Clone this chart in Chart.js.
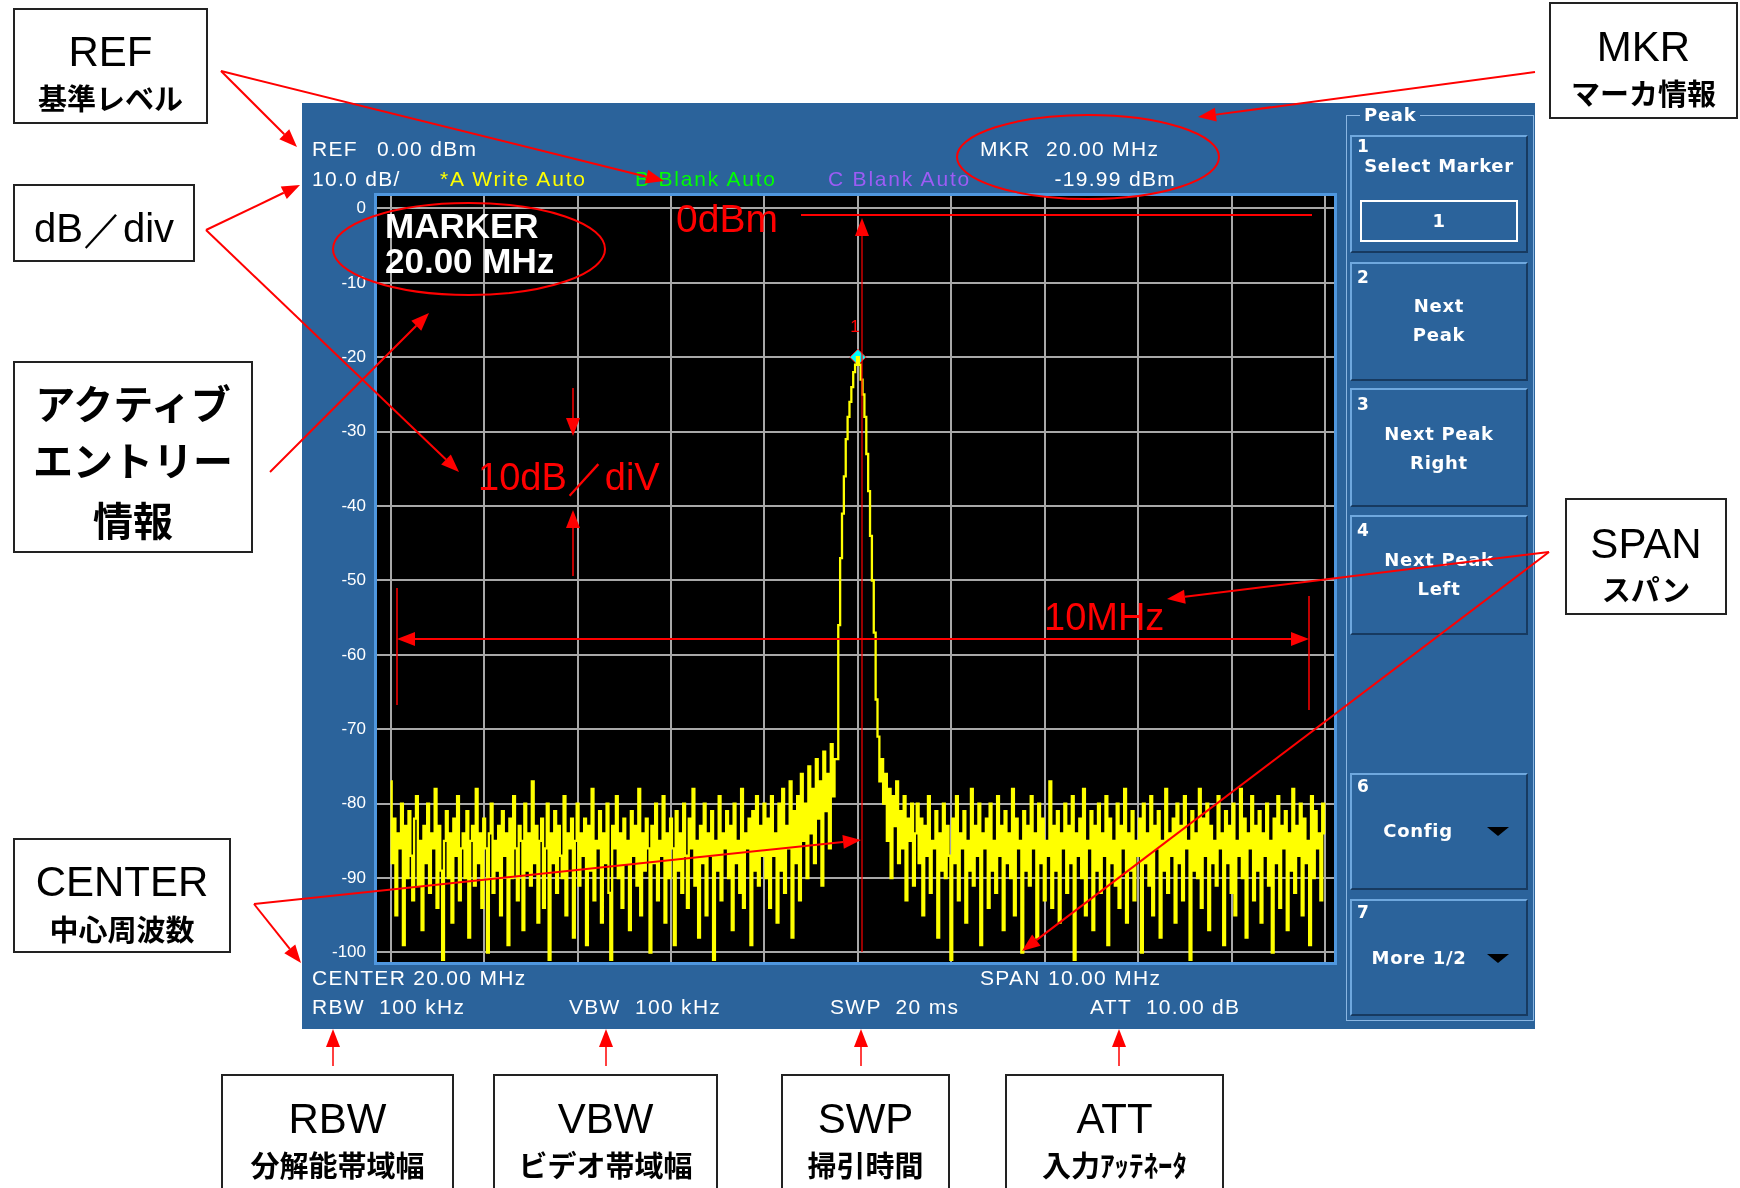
<!DOCTYPE html>
<html>
<head>
<meta charset="utf-8">
<title>Spectrum analyzer screen</title>
<script src="https://cdn.jsdelivr.net/npm/chart.js@4.4.0/dist/chart.umd.min.js"></script>
<style>
	html, body { margin: 0; padding: 0; background: #fff; }
	#page { position: relative; width: 1740px; height: 1188px; overflow: hidden; background: #fff; font-family: 'Liberation Sans', Arial, sans-serif; }
	#panel { position: absolute; left: 302px; top: 103px; width: 1233px; height: 926px; background: #2b639b; }
	#spectrum { position: absolute; left: 0; top: 0; }
	#labels { position: absolute; left: 0; top: 0; width: 1740px; height: 1188px; }
	#notes { position: absolute; left: 0; top: 0; pointer-events: none; }
	.abs { position: absolute; white-space: pre; line-height: 1; }
	.box { position: absolute; box-sizing: border-box; background: #fff; border: 2px solid #222; }
	.key { position: absolute; box-sizing: border-box; left: 1350px; width: 178px;
		border-top: 2px solid #6fa8de; border-left: 2px solid #6fa8de;
		border-bottom: 2px solid #173a60; border-right: 2px solid #173a60; }
	.tri { position: absolute; width: 0; height: 0; border-left: 11px solid transparent; border-right: 11px solid transparent; border-top: 9px solid #000; }
</style>
</head>
<body>
<div id="page">
	<div id="panel"></div>
	<canvas id="spectrum" width="1740" height="1188"></canvas>
	<div id="labels"></div>
	<svg id="notes" width="1740" height="1188" xmlns="http://www.w3.org/2000/svg"></svg>
</div>
<script>
// axis ticks (dBm) and vertical grid (MHz)
const yTicksDb = [0, -10, -20, -30, -40, -50, -60, -70, -80, -90, -100];
const xGridMHz = [15, 16, 17, 18, 19, 20, 21, 22, 23, 24, 25];

// sweep: 501 points, 15.00 .. 25.00 MHz
const traceStartMHz = 15.0;
const traceStepMHz = 0.02;

// trace A (dBm)
const noiseLeftDbm = [
	-77,-88,-82,-95,-84,-86,-80,-99,-83,-90,-81,-87,-93,-82,-79,-91,-85,-97,-83,-88,
	-80,-92,-84,-86,-78,-94,-83,-89,-101,-85,-81,-90,-84,-96,-82,-87,-79,-93,-86,-84,
	-90,-81,-98,-85,-83,-91,-78,-88,-84,-94,-82,-86,-100,-84,-80,-92,-85,-89,-83,-95,
	-81,-87,-84,-99,-82,-90,-79,-86,-93,-83,-85,-97,-80,-89,-84,-91,-77,-88,-83,-96,
	-85,-82,-94,-86,-80,-101,-84,-88,-81,-92,-83,-87,-90,-79,-95,-84,-86,-82,-98,-85,
	-80,-91,-84,-87,-82,-99,-83,-89,-78,-93,-85,-86,-81,-96,-84,-88,-80,-92,-101,-83,
	-86,-79,-90,-84,-94,-82,-88,-85,-97,-81,-87,-83,-91,-78,-95,-84,-89,-82,-86,-100,
	-83,-88,-80,-93,-85,-87,-79,-96,-84,-90,-82,-86,-99,-81,-89,-84,-92,-80,-87,-94,
	-82,-86,-78,-91,-85,-98,-83,-88,-80,-95,-84,-87,-81,-101,-85,-89,-79,-93,-84,-86,
	-81,-90,-83,-97,-80,-88,-85,-92,-78,-94,-84,-86,-82,-99,-81,-89,-79,-91,-83,-87,
	-80,-90,-82,-94,-79,-87,-84,-96,-80,-89,-78,-92,-83,-86,-77,-98,-81,-88,-79,-93,
	-76,-85,-80,-90,-75,-84,-78,-88,-74,-82,-77,-91,-73,-81,-76,-86,-72,-79,-74
];
const peakDbm = [
	-74,-56,-47,-41,-36,-31,-28,-26,-24,-22,-21,-19.99,
	-21,-23,-25,-28,-33,-38,-44,-50,-57,-66,-71,-77
];
const noiseRightDbm = [
	-74,-80,-76,-85,-78,-90,-79,-83,-77,-88,-81,-86,-79,-93,-82,-85,-80,-91,
	-84,-80,-88,-82,-95,-83,-87,-79,-92,-85,-86,-81,-98,-84,-89,-80,-90,-83,-87,-101,
	-82,-88,-79,-93,-84,-86,-81,-96,-85,-89,-78,-91,-83,-87,-80,-99,-84,-86,-82,-94,
	-80,-89,-85,-92,-79,-87,-83,-97,-81,-88,-84,-90,-78,-95,-82,-86,-85,-100,-81,-89,
	-83,-91,-79,-86,-84,-98,-80,-88,-82,-93,-85,-87,-77,-94,-83,-89,-81,-96,-84,-86,
	-80,-92,-83,-88,-79,-101,-84,-87,-82,-90,-78,-95,-85,-86,-81,-97,-83,-89,-80,-92,
	-84,-87,-79,-99,-82,-88,-85,-91,-80,-94,-83,-86,-78,-96,-84,-89,-81,-93,-85,-87,
	-82,-100,-80,-88,-84,-91,-79,-95,-83,-86,-81,-98,-85,-89,-78,-92,-84,-87,-82,-96,
	-80,-88,-83,-93,-79,-86,-85,-101,-81,-89,-84,-90,-78,-94,-82,-87,-80,-97,-83,-88,
	-85,-91,-79,-86,-84,-99,-81,-88,-83,-92,-80,-95,-85,-87,-78,-90,-82,-98,-84,-86,
	-79,-93,-83,-89,-81,-96,-84,-87,-80,-91,-85,-100,-82,-88,-79,-94,-83,-86,-81,-97,
	-84,-89,-78,-92,-83,-87,-80,-95,-82,-88,-85,-99,-79,-90,-81,-86,-84,-93,-80,-84
];

// marker 1
const markerMHz = [20.00];
const markerDbm = [-19.99];

const RED = '#ff0000';

const tracePoints = noiseLeftDbm.concat(peakDbm, noiseRightDbm)
	.map((v, i) => ({ x: traceStartMHz + i * traceStepMHz, y: v }));

// black screen + frame + marker number
const screenPlugin = {
	id: 'screen',
	beforeDraw(chart) {
		const { ctx, chartArea: a } = chart;
		ctx.save();
		ctx.fillStyle = '#000';
		ctx.fillRect(a.left, a.top, a.right - a.left, a.bottom - a.top);
		ctx.restore();
	},
	afterDatasetsDraw(chart) {
		const { ctx } = chart;
		const xs = chart.scales.x, ys = chart.scales.y;
		ctx.save();
		ctx.fillStyle = RED;
		ctx.font = '17px "Liberation Sans", Arial, sans-serif';
		ctx.textAlign = 'center';
		ctx.textBaseline = 'middle';
		ctx.fillText('1', xs.getPixelForValue(markerMHz[0]) - 3, ys.getPixelForValue(markerDbm[0]) - 30);
		ctx.restore();
	},
	afterDraw(chart) {
		const { ctx, chartArea: a } = chart;
		ctx.save();
		ctx.strokeStyle = '#4f97df';
		ctx.lineWidth = 3;
		ctx.strokeRect(a.left - 1.5, a.top - 1.5, a.right - a.left + 3, a.bottom - a.top + 3);
		ctx.restore();
	}
};

new Chart(document.getElementById('spectrum').getContext('2d'), {
	type: 'line',
	data: {
		datasets: [
			{
				label: 'A',
				data: tracePoints,
				borderColor: '#ffff00',
				borderWidth: 2.3,
				pointRadius: 0,
				stepped: 'middle',
				fill: false,
			},
			{
				label: 'MKR',
				data: markerMHz.map((f, i) => ({ x: f, y: markerDbm[i] })),
				showLine: false,
				pointStyle: 'rectRot',
				pointRadius: 8,
				backgroundColor: '#00ffff',
				borderColor: '#ff2020',
				borderWidth: 1,
			},
		],
	},
	options: {
		responsive: false,
		animation: false,
		devicePixelRatio: 1,
		layout: { padding: { left: 317, top: 196, right: 406, bottom: 226 } },
		plugins: { legend: { display: false }, tooltip: { enabled: false } },
		scales: {
			x: {
				type: 'linear',
				min: 14.853,
				max: 25.096,
				afterBuildTicks: s => { s.ticks = xGridMHz.map(v => ({ value: v })); },
				afterFit: s => { s.height = 0; },
				ticks: { display: false },
				grid: { color: '#a8a8a8', lineWidth: 2, drawTicks: false },
				border: { display: false },
			},
			y: {
				type: 'linear',
				min: -101.28,
				max: 1.68,
				afterBuildTicks: s => { s.ticks = yTicksDb.map(v => ({ value: v })); },
				afterFit: s => { s.width = 60; },
				ticks: {
					color: '#ffffff',
					padding: 11,
					font: { family: '"Liberation Sans", Arial, sans-serif', size: 17 },
				},
				grid: { color: '#a8a8a8', lineWidth: 2, drawTicks: false },
				border: { display: false },
			},
		},
	},
	plugins: [screenPlugin],
});

// ---- texts on the screen and the call-out boxes ----
const layer = document.getElementById('labels');

function put(text, x, y, css, align) {
	const d = document.createElement('div');
	d.className = 'abs';
	d.textContent = text;
	d.style.left = x + 'px';
	d.style.top = y + 'px';
	const tx = align === 'c' ? '-50%' : align === 'r' ? '-100%' : '0';
	d.style.transform = 'translate(' + tx + ', -50%)';
	Object.assign(d.style, css || {});
	layer.appendChild(d);
	return d;
}

function block(cls, x, y, w, h, css) {
	const d = document.createElement('div');
	d.className = cls;
	d.style.left = x + 'px';
	d.style.top = y + 'px';
	d.style.width = w + 'px';
	d.style.height = h + 'px';
	Object.assign(d.style, css || {});
	layer.appendChild(d);
	return d;
}

const scr = { color: '#fff', fontSize: '21px', letterSpacing: '1.3px' };

put('REF', 312, 148, scr);
put('0.00 dBm', 377, 148, scr);
put('10.0 dB/', 312, 178, scr);
put('*A Write Auto', 440, 178, { ...scr, color: '#ffff00', letterSpacing: '1.8px' });
put('B Blank Auto', 635, 178, { ...scr, color: '#00ff00', letterSpacing: '1.8px' });
put('C Blank Auto', 828, 178, { ...scr, color: '#9d5cf5', letterSpacing: '1.8px' });
put('MKR', 980, 148, scr);
put('20.00 MHz', 1046, 148, scr);
put('-19.99 dBm', 1176, 178, scr, 'r');

put('CENTER 20.00 MHz', 312, 977, scr);
put('SPAN 10.00 MHz', 980, 977, scr);
put('RBW  100 kHz', 312, 1006, scr);
put('VBW  100 kHz', 569, 1006, scr);
put('SWP  20 ms', 830, 1006, scr);
put('ATT  10.00 dB', 1090, 1006, scr);

// active entry
const big = { color: '#fff', fontSize: '35px', fontWeight: 'bold' };
put('MARKER', 385, 225, big);
put('20.00 MHz', 385, 260, big);

// soft keys
block('abs', 1346, 115, 188, 906, { border: '1px solid #8ab6e2', boxSizing: 'border-box' });
const sk = { color: '#fff', fontSize: '18px', fontWeight: 'bold', fontFamily: '"DejaVu Sans", sans-serif', letterSpacing: '0.7px' };
const skNum = { ...sk, fontSize: '17px', letterSpacing: '0' };
put('Peak', 1360, 115, { ...sk, background: '#2b639b', padding: '0 4px' });

block('key', 1350, 135, 178, 118);
put('1', 1357, 146, skNum);
put('Select Marker', 1439, 166, sk, 'c');
block('abs', 1360, 200, 158, 42, { border: '2px solid #fff', boxSizing: 'border-box' });
put('1', 1439, 221, sk, 'c');

block('key', 1350, 262, 178, 119);
put('2', 1357, 277, skNum);
put('Next', 1439, 306, sk, 'c');
put('Peak', 1439, 335, sk, 'c');

block('key', 1350, 388, 178, 119);
put('3', 1357, 404, skNum);
put('Next Peak', 1439, 434, sk, 'c');
put('Right', 1439, 463, sk, 'c');

block('key', 1350, 515, 178, 120);
put('4', 1357, 530, skNum);
put('Next Peak', 1439, 560, sk, 'c');
put('Left', 1439, 589, sk, 'c');

block('key', 1350, 773, 178, 117);
put('6', 1357, 786, skNum);
put('Config', 1418, 831, sk, 'c');
block('tri', 1487, 827, 0, 0);

block('key', 1350, 899, 178, 117);
put('7', 1357, 912, skNum);
put('More 1/2', 1419, 958, sk, 'c');
block('tri', 1487, 954, 0, 0);

// call-out boxes
const latin = { color: '#000', fontSize: '42px' };
const jp = { color: '#000', fontSize: '29px', fontWeight: 'bold', fontFamily: '"Noto Sans CJK JP", sans-serif' };
const jpBig = { color: '#000', fontSize: '40px', fontWeight: 'bold', fontFamily: '"Noto Sans CJK JP", sans-serif' };

function callout(x, y, w, h, lines) {
	block('box', x, y, w, h);
	lines.forEach(l => put(l[0], x + w / 2, l[1], l[2], 'c'));
}

callout(13, 8, 195, 116, [['REF', 52, latin], ['基準レベル', 97, jp]]);
callout(13, 184, 182, 78, [['dB／div', 228, { ...latin, fontSize: '40px' }]]);
callout(13, 361, 240, 192, [['アクティブ', 402, jpBig], ['エントリー', 459, jpBig], ['情報', 519, jpBig]]);
callout(1549, 2, 189, 117, [['MKR', 47, latin], ['マーカ情報', 92, jp]]);
callout(1565, 498, 162, 117, [['SPAN', 544, latin], ['スパン', 588, jp]]);
callout(13, 838, 218, 115, [['CENTER', 882, latin], ['中心周波数', 928, jp]]);
callout(221, 1074, 233, 140, [['RBW', 1119, latin], ['分解能帯域幅', 1164, jp]]);
callout(493, 1074, 225, 140, [['VBW', 1119, latin], ['ビデオ帯域幅', 1164, jp]]);
callout(781, 1074, 169, 140, [['SWP', 1119, latin], ['掃引時間', 1164, jp]]);
callout(1005, 1074, 219, 140, [['ATT', 1119, latin], ['入力ｱｯﾃﾈｰﾀ', 1164, jp]]);

// red notes written on the screen
put('0dBm', 676, 218, { color: RED, fontSize: '39px' });
put('10dB／diV', 478, 477, { color: RED, fontSize: '38px' });
put('10MHz', 1044, 617, { color: RED, fontSize: '38px' });

// ---- red arrows, lines and rings ----
const svg = document.getElementById('notes');
const NS = 'http://www.w3.org/2000/svg';

function el(tag, attrs) {
	const e = document.createElementNS(NS, tag);
	for (const k in attrs) e.setAttribute(k, attrs[k]);
	svg.appendChild(e);
	return e;
}
function seg(x1, y1, x2, y2, w) {
	el('line', { x1, y1, x2, y2, stroke: RED, 'stroke-width': w || 2 });
}
function head(x1, y1, x2, y2) {
	const dx = x2 - x1, dy = y2 - y1, L = Math.hypot(dx, dy);
	const ux = dx / L, uy = dy / L, len = 18, half = 7;
	const bx = x2 - ux * len, by = y2 - uy * len;
	el('polygon', {
		points: x2 + ',' + y2 + ' ' + (bx - uy * half) + ',' + (by + ux * half) + ' ' + (bx + uy * half) + ',' + (by - ux * half),
		fill: RED,
	});
	return [bx, by];
}
function arrow(x1, y1, x2, y2, w) {
	const b = head(x1, y1, x2, y2);
	seg(x1, y1, b[0], b[1], w);
}
function ring(cx, cy, rx, ry) {
	el('ellipse', { cx, cy, rx, ry, fill: 'none', stroke: RED, 'stroke-width': 2 });
}

arrow(221, 71, 297, 147);
arrow(221, 71, 664, 181);
arrow(206, 230, 300, 185);
arrow(206, 230, 459, 472);
arrow(270, 472, 429, 313);
arrow(1535, 72, 1198, 117);
ring(1088, 157, 131, 42);
ring(469, 249, 136, 46);

// reference level line and marker line
seg(801, 215, 1312, 215);
seg(862, 232, 862, 952, 1.2);
head(862, 300, 862, 218);

// 10 dB/div
arrow(573, 388, 573, 436, 1.5);
arrow(573, 576, 573, 510, 1.5);

// 10 MHz span
seg(397, 588, 397, 705, 1.5);
seg(1309, 596, 1309, 710, 1.5);
const l1 = head(1309, 639, 397, 639);
const r1 = head(397, 639, 1309, 639);
seg(l1[0], 639, r1[0], 639);

arrow(1549, 552, 1167, 599);
arrow(1549, 552, 1022, 951);
arrow(254, 904, 861, 840);
arrow(254, 904, 301, 963);

[333, 606, 861, 1119].forEach(x => arrow(x, 1066, x, 1029, 1.5));
</script>
</body>
</html>
